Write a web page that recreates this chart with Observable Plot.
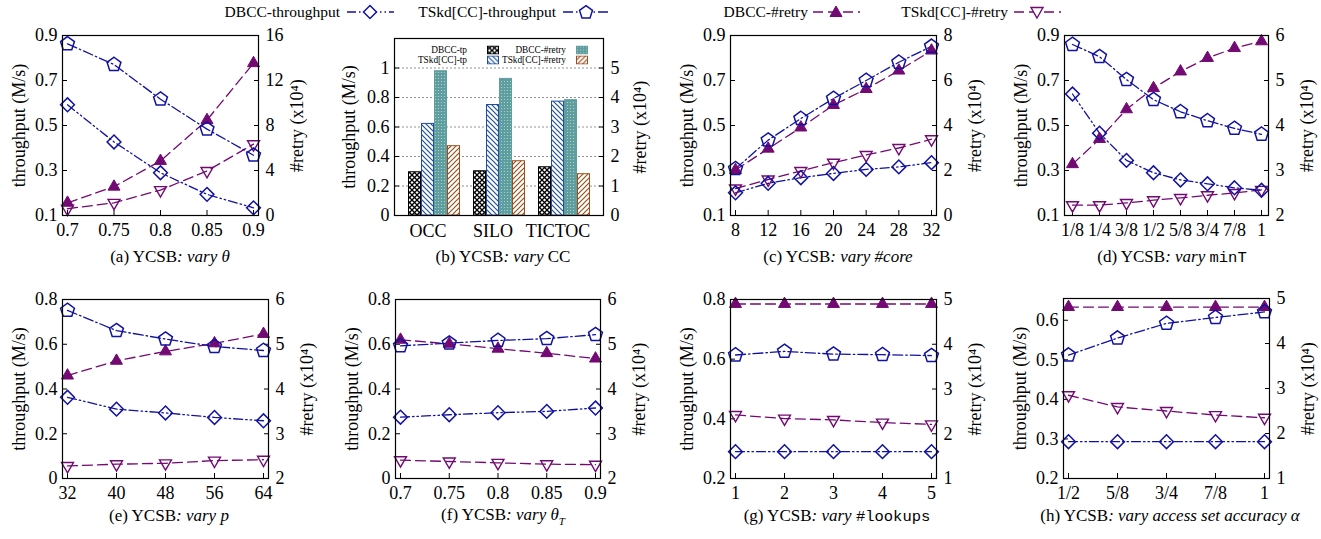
<!DOCTYPE html>
<html><head><meta charset="utf-8">
<script src="https://cdn.jsdelivr.net/npm/d3@7"></script>
<script src="https://cdn.jsdelivr.net/npm/@observablehq/plot@0.6"></script>
<style>
html,body{margin:0;padding:0;background:#fff;}
body{width:1321px;height:539px;position:relative;overflow:hidden;font-family:"Liberation Serif","DejaVu Serif",serif;color:#000;}
.panel{position:absolute;}
.cap{position:absolute;transform:translate(-50%,-50%);font-size:17px;white-space:nowrap;}
.mono{font-family:"Liberation Mono","DejaVu Sans Mono",monospace;font-size:15.5px;}
.legt{position:absolute;transform:translate(-100%,-50%);font-size:15.5px;white-space:nowrap;}
.legs{position:absolute;transform:translate(-50%,-50%);}
.blegt{position:absolute;transform:translate(-100%,-50%);font-size:9.3px;white-space:nowrap;}
.blegs{position:absolute;transform:translate(0,-50%);}
</style></head><body>
<svg width="0" height="0" style="position:absolute">
<defs>
<pattern id="pCheck" patternUnits="userSpaceOnUse" width="5" height="5">
<rect width="5" height="5" fill="#fff"/>
<path d="M0,0L5,5M5,0L0,5" stroke="#000" stroke-width="1.3"/>
</pattern>
<pattern id="pBlue" patternUnits="userSpaceOnUse" width="5" height="5">
<rect width="5" height="5" fill="#fff"/>
<path d="M0,0L5,5M-1,4L1,6M4,-1L6,1" stroke="#1f4f9f" stroke-width="1.2"/>
</pattern>
<pattern id="pTeal" patternUnits="userSpaceOnUse" width="3" height="3">
<rect width="3" height="3" fill="#5f9e9e"/>
<circle cx="1.5" cy="1.5" r="0.6" fill="#b8d8d8"/>
</pattern>
<pattern id="pBrown" patternUnits="userSpaceOnUse" width="5" height="5">
<rect width="5" height="5" fill="#fff"/>
<path d="M0,5L5,0M-1,1L1,-1M4,6L6,4" stroke="#9c4f1c" stroke-width="1.2"/>
</pattern>
</defs></svg>
<div id="root"></div>
<script>
// ---------------- data ----------------
const seriesNames = ["DBCC-throughput", "TSkd[CC]-throughput", "DBCC-#retry", "TSkd[CC]-#retry"];

// (a) vary theta
const aX = [0.7, 0.75, 0.8, 0.85, 0.9];
const aDbccTp = [0.592, 0.427, 0.29, 0.194, 0.134];
const aTskdTp = [0.863, 0.771, 0.617, 0.484, 0.368];
const aDbccRetry = [1.13, 2.56, 4.85, 8.48, 13.54];
const aTskdRetry = [0.6, 1.13, 2.26, 3.96, 6.34];

// (b) vary CC
const bGroups = ["OCC", "SILO", "TICTOC"];
const bBarSeries = ["DBCC-tp", "TSkd[CC]-tp", "DBCC-#retry", "TSkd[CC]-#retry"];
const bDbccTp = [0.293, 0.30, 0.327];
const bTskdTp = [0.621, 0.749, 0.772];
const bDbccRetry = [4.89, 4.63, 3.91];
const bTskdRetry = [2.35, 1.84, 1.40];

// (c) vary #core
const cX = [8, 12, 16, 20, 24, 28, 32];
const cDbccTp = [0.201, 0.243, 0.268, 0.287, 0.305, 0.316, 0.335];
const cTskdTp = [0.308, 0.435, 0.531, 0.62, 0.70, 0.781, 0.852];
const cDbccRetry = [2.02, 2.97, 3.91, 4.91, 5.62, 6.44, 7.33];
const cTskdRetry = [1.2, 1.6, 1.98, 2.35, 2.69, 3.0, 3.39];

// (d) vary minT
const dX = ["1/8", "1/4", "3/8", "1/2", "5/8", "3/4", "7/8", "1"];
const dDbccTp = [0.64, 0.466, 0.345, 0.29, 0.258, 0.241, 0.223, 0.212];
const dTskdTp = [0.86, 0.806, 0.704, 0.615, 0.561, 0.521, 0.487, 0.461];
const dDbccRetry = [3.14, 3.70, 4.36, 4.83, 5.2, 5.5, 5.72, 5.87];
const dTskdRetry = [2.23, 2.23, 2.28, 2.34, 2.39, 2.45, 2.5, 2.57];

// (e) vary p
const eX = [32, 40, 48, 56, 64];
const eDbccTp = [0.363, 0.31, 0.293, 0.273, 0.258];
const eTskdTp = [0.751, 0.661, 0.623, 0.59, 0.572];
const eDbccRetry = [4.3, 4.63, 4.84, 5.02, 5.23];
const eTskdRetry = [2.28, 2.32, 2.34, 2.4, 2.42];

// (f) vary theta_T
const fX = [0.7, 0.75, 0.8, 0.85, 0.9];
const fDbccTp = [0.274, 0.285, 0.294, 0.3, 0.315];
const fTskdTp = [0.593, 0.605, 0.617, 0.625, 0.643];
const fDbccRetry = [5.1, 5.01, 4.9, 4.8, 4.68];
const fTskdRetry = [2.41, 2.38, 2.35, 2.32, 2.31];

// (g) vary #lookups
const gX = [1, 2, 3, 4, 5];
const gDbccTp = [0.29, 0.29, 0.29, 0.29, 0.29];
const gTskdTp = [0.614, 0.626, 0.617, 0.615, 0.612];
const gDbccRetry = [4.9, 4.9, 4.9, 4.9, 4.9];
const gTskdRetry = [2.42, 2.34, 2.31, 2.25, 2.21];

// (h) vary access set accuracy
const hX = ["1/2", "5/8", "3/4", "7/8", "1"];
const hDbccTp = [0.293, 0.293, 0.293, 0.293, 0.293];
const hTskdTp = [0.512, 0.555, 0.592, 0.607, 0.621];
const hDbccRetry = [4.81, 4.81, 4.81, 4.81, 4.81];
const hTskdRetry = [2.85, 2.59, 2.5, 2.41, 2.35];

// axis tick values
const ticksY01_09 = [0.1, 0.3, 0.5, 0.7, 0.9];
const ticksY0_08 = [0, 0.2, 0.4, 0.6, 0.8];
const ticksY02_08 = [0.2, 0.4, 0.6, 0.8];
const ticksY02_06 = [0.2, 0.3, 0.4, 0.5, 0.6];
const ticksYb = [0, 0.2, 0.4, 0.6, 0.8, 1];
const ticksR0_16 = [0, 4, 8, 12, 16];
const ticksR0_8 = [0, 2, 4, 6, 8];
const ticksR2_6 = [2, 3, 4, 5, 6];
const ticksR1_5 = [1, 2, 3, 4, 5];
const ticksRb = [0, 1, 2, 3, 4, 5];

// ---------------- styles ----------------
const BLUE = "#1212a0", PURPLE = "#730a73";
const FONT = "'Liberation Serif','DejaVu Serif',serif";
const fmt = v => String(Math.round(v * 100) / 100);

const symDiamond = {draw(c, s) {const R = Math.sqrt(s / Math.PI) * 1.15; c.moveTo(0, -R); c.lineTo(R, 0); c.lineTo(0, R); c.lineTo(-R, 0); c.closePath();}};
const symPentagon = {draw(c, s) {const R = Math.sqrt(s / Math.PI) * 1.12; for (let k = 0; k < 5; k++) {const a = -Math.PI / 2 + k * 2 * Math.PI / 5; const px = R * Math.cos(a), py = R * Math.sin(a); if (k) c.lineTo(px, py); else c.moveTo(px, py);} c.closePath();}};
const symTri = {draw(c, s) {const R = Math.sqrt(s / Math.PI) * 1.15; c.moveTo(0, -R); c.lineTo(R * 0.866, R / 2); c.lineTo(-R * 0.866, R / 2); c.closePath();}};
const symInvTri = {draw(c, s) {const R = Math.sqrt(s / Math.PI) * 1.15; c.moveTo(0, R); c.lineTo(R * 0.866, -R / 2); c.lineTo(-R * 0.866, -R / 2); c.closePath();}};

const DASH_DBCC_TP = "9,3,1.5,3,1.5,3";
const DASH_TSKD_TP = "10,3,1.5,3";
const DASH_RETRY = "10,5";

const ML = 62, MR = 60, MT = 8, MB = 34;
const root = document.getElementById("root");

function place(el, left, top) {
  el.classList.add("panel");
  el.style.left = left + "px";
  el.style.top = top + "px";
  root.appendChild(el);
}

const labelStyle = {labelAnchor: "center", labelArrow: "none", fontSize: 18};

function linePanel(cfg) {
  const {fx, fy, fw, fh, xs, point, xTicks, yL, yLTicks, yR, yRTicks, dbccTp, tskdTp, dbccRetry, tskdRetry} = cfg;
  const toL = v => yL[0] + (v - yR[0]) * (yL[1] - yL[0]) / (yR[1] - yR[0]);
  const fromL = d => yR[0] + (d - yL[0]) * (yR[1] - yR[0]) / (yL[1] - yL[0]);
  const rows = (ys, conv) => xs.map((x, i) => ({x, y: conv ? toL(ys[i]) : ys[i]}));
  const A = rows(dbccTp, false), B = rows(tskdTp, false), C = rows(dbccRetry, true), D = rows(tskdRetry, true);
  const xScale = point
    ? {type: "point", domain: xs, padding: 0, inset: 5}
    : {type: "linear", domain: [xs[0], xs[xs.length - 1]], inset: 5};
  const svg = Plot.plot({
    width: ML + fw + MR, height: MT + fh + MB,
    marginLeft: ML, marginRight: MR, marginTop: MT, marginBottom: MB,
    style: {fontFamily: FONT, fontSize: "18px", background: "transparent", color: "#000", overflow: "visible"},
    x: xScale,
    y: {domain: yL},
    marks: [
      Plot.axisX(xTicks, {tickSize: -5, tickPadding: 13, tickFormat: d => String(d), label: null, strokeWidth: 1}),
      Plot.axisY(yLTicks, {anchor: "left", tickSize: -5, tickPadding: 10, tickFormat: fmt, label: "throughput (M/s)", labelOffset: 50, ...labelStyle}),
      Plot.axisY(yRTicks.map(toL), {anchor: "right", tickSize: -5, tickPadding: 12, tickFormat: d => fmt(fromL(d)), label: "#retry (x10\u2074)", labelOffset: 44, ...labelStyle}),
      Plot.line(C, {x: "x", y: "y", stroke: PURPLE, strokeWidth: 1.3, strokeDasharray: DASH_RETRY}),
      Plot.line(D, {x: "x", y: "y", stroke: PURPLE, strokeWidth: 1.3, strokeDasharray: DASH_RETRY}),
      Plot.line(A, {x: "x", y: "y", stroke: BLUE, strokeWidth: 1.3, strokeDasharray: DASH_DBCC_TP}),
      Plot.line(B, {x: "x", y: "y", stroke: BLUE, strokeWidth: 1.3, strokeDasharray: DASH_TSKD_TP}),
      Plot.dot(C, {x: "x", y: "y", symbol: symTri, r: 6, fill: PURPLE, stroke: PURPLE, strokeWidth: 1}),
      Plot.dot(D, {x: "x", y: "y", symbol: symInvTri, r: 6, fill: "none", stroke: PURPLE, strokeWidth: 1.4}),
      Plot.dot(A, {x: "x", y: "y", symbol: symDiamond, r: 6, fill: "none", stroke: BLUE, strokeWidth: 1.5}),
      Plot.dot(B, {x: "x", y: "y", symbol: symPentagon, r: 6.5, fill: "none", stroke: BLUE, strokeWidth: 1.5}),
      Plot.frame({stroke: "#000", strokeWidth: 1.2})
    ]
  });
  place(svg, fx - ML, fy - MT);
}

// (a)
linePanel({fx: 62, fy: 35, fw: 196, fh: 180, xs: aX, point: false, xTicks: aX,
  yL: [0.1, 0.9], yLTicks: ticksY01_09, yR: [0, 16], yRTicks: ticksR0_16,
  dbccTp: aDbccTp, tskdTp: aTskdTp, dbccRetry: aDbccRetry, tskdRetry: aTskdRetry});
// (c)
linePanel({fx: 730, fy: 35, fw: 206, fh: 180, xs: cX, point: false, xTicks: cX,
  yL: [0.1, 0.9], yLTicks: ticksY01_09, yR: [0, 8], yRTicks: ticksR0_8,
  dbccTp: cDbccTp, tskdTp: cTskdTp, dbccRetry: cDbccRetry, tskdRetry: cTskdRetry});
// (d)
linePanel({fx: 1064, fy: 35, fw: 204, fh: 180, xs: dX, point: true, xTicks: dX,
  yL: [0.1, 0.9], yLTicks: ticksY01_09, yR: [2, 6], yRTicks: ticksR2_6,
  dbccTp: dDbccTp, tskdTp: dTskdTp, dbccRetry: dDbccRetry, tskdRetry: dTskdRetry});
// (e)
linePanel({fx: 62, fy: 299, fw: 206, fh: 179, xs: eX, point: false, xTicks: eX,
  yL: [0, 0.8], yLTicks: ticksY0_08, yR: [2, 6], yRTicks: ticksR2_6,
  dbccTp: eDbccTp, tskdTp: eTskdTp, dbccRetry: eDbccRetry, tskdRetry: eTskdRetry});
// (f)
linePanel({fx: 395, fy: 299, fw: 205, fh: 179, xs: fX, point: false, xTicks: fX,
  yL: [0, 0.8], yLTicks: ticksY0_08, yR: [2, 6], yRTicks: ticksR2_6,
  dbccTp: fDbccTp, tskdTp: fTskdTp, dbccRetry: fDbccRetry, tskdRetry: fTskdRetry});
// (g)
linePanel({fx: 730, fy: 299, fw: 206, fh: 179, xs: gX, point: false, xTicks: gX,
  yL: [0.2, 0.8], yLTicks: ticksY02_08, yR: [1, 5], yRTicks: ticksR1_5,
  dbccTp: gDbccTp, tskdTp: gTskdTp, dbccRetry: gDbccRetry, tskdRetry: gTskdRetry});
// (h)
linePanel({fx: 1063, fy: 298, fw: 206, fh: 180, xs: hX, point: true, xTicks: hX,
  yL: [0.2, 0.655], yLTicks: ticksY02_06, yR: [1, 5], yRTicks: ticksR1_5,
  dbccTp: hDbccTp, tskdTp: hTskdTp, dbccRetry: hDbccRetry, tskdRetry: hTskdRetry});

// (b) grouped bars
(function () {
  const fx = 394, fy = 38, fw = 209, fh = 177;
  const yL = [0, 1.2], yR = [0, 6];
  const toL = v => yL[0] + (v - yR[0]) * (yL[1] - yL[0]) / (yR[1] - yR[0]);
  const fromL = d => yR[0] + (d - yL[0]) * (yR[1] - yR[0]) / (yL[1] - yL[0]);
  const fills = {"DBCC-tp": "url(#pCheck)", "TSkd[CC]-tp": "url(#pBlue)", "DBCC-#retry": "url(#pTeal)", "TSkd[CC]-#retry": "url(#pBrown)"};
  const strokes = {"DBCC-tp": "#000", "TSkd[CC]-tp": "#1f4f9f", "DBCC-#retry": "#5f9e9e", "TSkd[CC]-#retry": "#9c4f1c"};
  const rows = [];
  const domain = [];
  bGroups.forEach((g, gi) => {
    if (gi > 0) domain.push("gap" + gi);
    const vals = [bDbccTp[gi], bTskdTp[gi], toL(bDbccRetry[gi]), toL(bTskdRetry[gi])];
    bBarSeries.forEach((s, si) => {
      const key = g + "|" + si;
      domain.push(key);
      rows.push({key, s, v: vals[si]});
    });
  });
  const svg = Plot.plot({
    width: ML + fw + MR, height: (fy - 5) + fh + MB,
    marginLeft: ML, marginRight: MR, marginTop: fy - 5, marginBottom: MB,
    style: {fontFamily: FONT, fontSize: "18px", background: "transparent", color: "#000", overflow: "visible"},
    x: {type: "band", domain, padding: 0, inset: 7},
    y: {domain: yL},
    color: {type: "identity"},
    marks: [
      Plot.gridY(ticksYb.filter(d => d > 0), {stroke: "#777", strokeOpacity: 1, strokeDasharray: "2,2", strokeWidth: 0.8}),
      Plot.barY(rows, {x: "key", y: "v", fill: d => fills[d.s], stroke: d => strokes[d.s], strokeWidth: 1, insetLeft: 0.5, insetRight: 0.5}),
      Plot.axisX(bGroups.map(g => g + "|1"), {tickSize: 0, tickPadding: 9, tickFormat: d => d.split("|")[0], label: null}),
      Plot.axisY(ticksYb, {anchor: "left", tickSize: -5, tickPadding: 10, tickFormat: fmt, label: "throughput (M/s)", labelOffset: 52, ...labelStyle}),
      Plot.axisY(ticksRb.map(toL), {anchor: "right", tickSize: -5, tickPadding: 12, tickFormat: d => fmt(fromL(d)), label: "#retry (x10\u2074)", labelOffset: 42, ...labelStyle}),
      Plot.frame({stroke: "#000", strokeWidth: 1.2})
    ]
  });
  place(svg, fx - ML, 5);
})();

// ---------------- HTML overlays: legends and captions ----------------
function addHTML(html) {root.insertAdjacentHTML("beforeend", html);}

function pentPath(cx, cy, R) {
  let p = "";
  for (let k = 0; k < 5; k++) {const a = -Math.PI / 2 + k * 2 * Math.PI / 5; p += (k ? "L" : "M") + (cx + R * Math.cos(a)).toFixed(2) + "," + (cy + R * Math.sin(a)).toFixed(2);}
  return p + "Z";
}
const legendSym = {
  "DBCC-throughput": {dash: DASH_DBCC_TP, color: BLUE, shape: `<path d="M26,1.5L32.5,8L26,14.5L19.5,8Z" fill="#fff" stroke="${BLUE}" stroke-width="1.5"/>`},
  "TSkd[CC]-throughput": {dash: DASH_TSKD_TP, color: BLUE, shape: `<path d="${pentPath(26, 8.5, 6.8)}" fill="#fff" stroke="${BLUE}" stroke-width="1.5"/>`},
  "DBCC-#retry": {dash: DASH_RETRY, color: PURPLE, shape: `<path d="M26,2L32,12.5L20,12.5Z" fill="${PURPLE}" stroke="${PURPLE}"/>`},
  "TSkd[CC]-#retry": {dash: DASH_RETRY, color: PURPLE, shape: `<path d="M26,14L32,3.5L20,3.5Z" fill="#fff" stroke="${PURPLE}" stroke-width="1.4"/>`}
};
const legendPos = [[340, 370], [556, 586], [808, 836], [1008, 1037]]; // [text right edge, symbol center]
seriesNames.forEach((s, i) => {
  const [tx, sx] = legendPos[i];
  const L = legendSym[s];
  addHTML(`<div class="legt" style="left:${tx}px;top:12px">${s}</div>`);
  addHTML(`<svg class="legs" style="left:${sx}px;top:12px" width="52" height="16"><line x1="2" x2="50" y1="8" y2="8" stroke="${L.color}" stroke-width="1.3" stroke-dasharray="${L.dash}" stroke-dashoffset="-1"/>${L.shape}</svg>`);
});

// (b) inner legend
const bLegPos = [[467, 50, 487], [467, 60, 487], [566, 50, 576], [566, 60, 576]];
const bFills = ["url(#pCheck)", "url(#pBlue)", "url(#pTeal)", "url(#pBrown)"];
const bStrokes = ["#000", "#1f4f9f", "#5f9e9e", "#9c4f1c"];
[0, 1, 2, 3].forEach(i => {
  const [tx, ty, sx] = bLegPos[i];
  addHTML(`<div class="blegt" style="left:${tx}px;top:${ty}px">${bBarSeries[i]}</div>`);
  addHTML(`<svg class="blegs" style="left:${sx}px;top:${ty}px" width="12" height="9"><rect x="0.5" y="0.5" width="11" height="8" fill="${bFills[i]}" stroke="${bStrokes[i]}"/></svg>`);
});

// captions
const captions = [
  [170, 257, `(a) YCSB<i>: vary θ</i>`],
  [503, 257, `(b) YCSB<i>: vary</i> CC`],
  [838, 257, `(c) YCSB<i>: vary #core</i>`],
  [1172, 257, `(d) YCSB<i>: vary</i> <span class="mono">minT</span>`],
  [169, 516, `(e) YCSB<i>: vary p</i>`],
  [503, 516, `(f) YCSB<i>: vary θ<sub style="font-size:11px">T</sub></i>`],
  [837, 516, `(g) YCSB<i>: vary</i> <span class="mono">#lookups</span>`],
  [1170, 516, `(h) YCSB<i>: vary access set accuracy α</i>`]
];
captions.forEach(([x, y, html]) => addHTML(`<div class="cap" style="left:${x}px;top:${y}px">${html}</div>`));
</script>
</body></html>
